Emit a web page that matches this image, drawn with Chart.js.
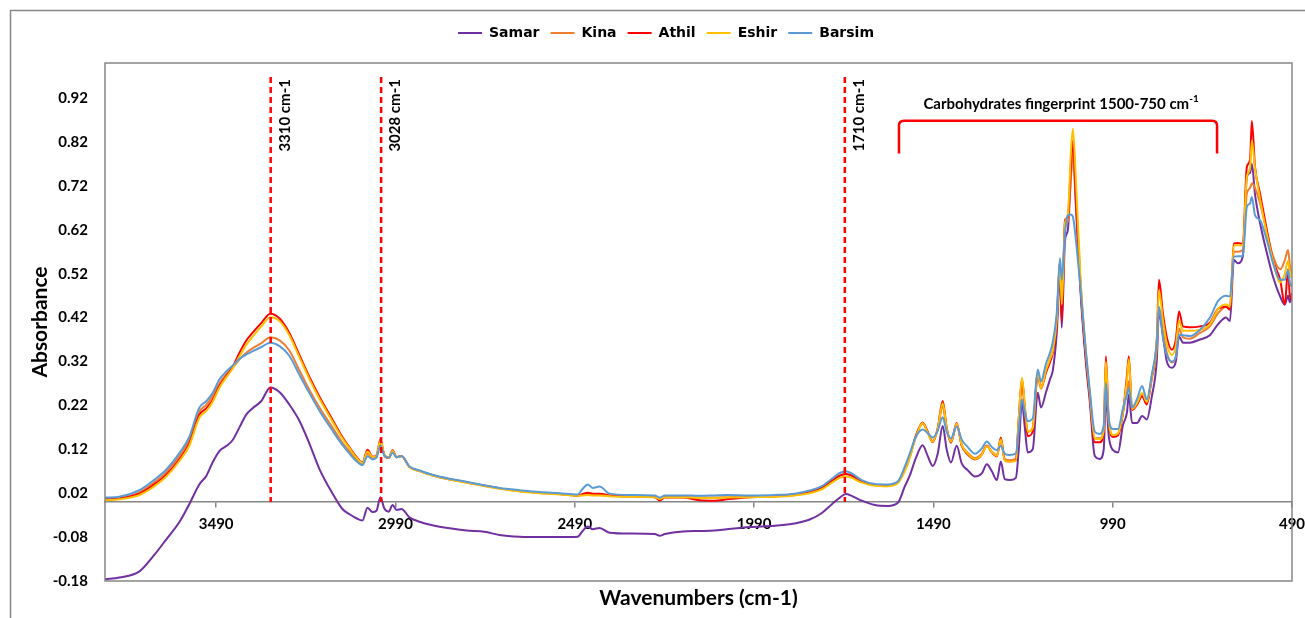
<!DOCTYPE html>
<html>
<head>
<meta charset="utf-8">
<title>FTIR spectra</title>
<script src="https://cdn.jsdelivr.net/npm/chart.js@4.4.1/dist/chart.umd.min.js"></script>
<style>
  html, body { margin: 0; padding: 0; background: #fff; }
  canvas { display: block; }
</style>
</head>
<body>
<canvas id="ftirChart" width="1305" height="618"></canvas>
<script>
// wavenumbers (cm-1), high to low
const wavenumbers = [
  3800, 3760, 3704, 3662, 3629, 3592, 3565, 3537, 3517, 3500,
  3481, 3461, 3445, 3425, 3406, 3389, 3364, 3339, 3313, 3286,
  3258, 3230, 3202, 3166, 3138, 3118, 3099, 3082, 3068, 3054,
  3043, 3032, 3021, 3009, 2998, 2987, 2973, 2951, 2923, 2887,
  2839, 2792, 2742, 2700, 2644, 2588, 2532, 2482, 2468, 2454,
  2440, 2421, 2393, 2337, 2267, 2253, 2239, 2189, 2142, 2100,
  2066, 2002, 1932, 1877, 1835, 1801, 1773, 1751, 1734, 1718,
  1690, 1653, 1617, 1589, 1570, 1556, 1539, 1520, 1506, 1492,
  1478, 1464, 1453, 1441, 1425, 1411, 1394, 1374, 1355, 1341,
  1327, 1313, 1302, 1291, 1277, 1260, 1252, 1243, 1235, 1227,
  1213, 1199, 1190, 1176, 1165, 1157, 1146, 1137, 1132, 1123,
  1115, 1107, 1101, 1093, 1079, 1065, 1054, 1040, 1026, 1015,
  1009, 1001, 989, 975, 962, 950, 945, 936, 922, 908,
  895, 881, 867, 861, 850, 839, 825, 814, 805, 794,
  775, 747, 719, 696, 674, 663, 652, 641, 627, 616,
  607, 602, 593, 579, 560, 543, 523, 510, 501, 496, 490
];

const samar = [
  -0.176, -0.172, -0.158, -0.12, -0.085, -0.045, -0.005, 0.040, 0.060, 0.090,
  0.116, 0.128, 0.140, 0.170, 0.199, 0.213, 0.230, 0.261, 0.250, 0.222,
  0.185, 0.133, 0.075, 0.020, -0.016, -0.028, -0.037, -0.042, -0.013, -0.023,
  -0.020, 0.011, -0.015, -0.022, -0.007, -0.018, -0.016, -0.035, -0.045, -0.053,
  -0.060, -0.065, -0.068, -0.075, -0.079, -0.080, -0.080, -0.079, -0.066, -0.056,
  -0.062, -0.059, -0.070, -0.072, -0.073, -0.077, -0.073, -0.067, -0.066, -0.065,
  -0.062, -0.057, -0.054, -0.049, -0.040, -0.025, -0.005, 0.010, 0.018, 0.014,
  0.003, -0.007, -0.009, -0.002, 0.035, 0.060, 0.100, 0.129, 0.105, 0.082,
  0.110, 0.173, 0.120, 0.090, 0.128, 0.088, 0.072, 0.058, 0.065, 0.086,
  0.070, 0.050, 0.092, 0.052, 0.050, 0.055, 0.120, 0.227, 0.170, 0.113,
  0.120, 0.249, 0.215, 0.250, 0.279, 0.300, 0.385, 0.521, 0.397, 0.596,
  0.620, 0.740, 0.805, 0.680, 0.470, 0.320, 0.230, 0.105, 0.098, 0.120,
  0.240, 0.150, 0.118, 0.113, 0.173, 0.205, 0.245, 0.180, 0.180, 0.196,
  0.188, 0.240, 0.324, 0.431, 0.380, 0.320, 0.306, 0.320, 0.377, 0.363,
  0.363, 0.370, 0.380, 0.405, 0.420, 0.412, 0.551, 0.544, 0.560, 0.740,
  0.750, 0.770, 0.700, 0.635, 0.567, 0.513, 0.468, 0.450, 0.470, 0.455, 0.476
];

const kina = [
  0.007, 0.009, 0.022, 0.045, 0.068, 0.105, 0.140, 0.205, 0.222, 0.240,
  0.270, 0.292, 0.305, 0.325, 0.340, 0.350, 0.362, 0.375, 0.368, 0.345,
  0.300, 0.255, 0.215, 0.170, 0.135, 0.115, 0.097, 0.087, 0.110, 0.100,
  0.104, 0.132, 0.108, 0.101, 0.114, 0.102, 0.104, 0.080, 0.071, 0.061,
  0.052, 0.045, 0.037, 0.031, 0.025, 0.021, 0.018, 0.015, 0.016, 0.018,
  0.016, 0.016, 0.014, 0.013, 0.012, 0.008, 0.012, 0.012, 0.010, 0.010,
  0.011, 0.012, 0.013, 0.016, 0.022, 0.032, 0.048, 0.060, 0.064, 0.060,
  0.047, 0.039, 0.038, 0.045, 0.075, 0.105, 0.150, 0.178, 0.160, 0.138,
  0.165, 0.218, 0.165, 0.138, 0.175, 0.130, 0.112, 0.100, 0.110, 0.128,
  0.115, 0.106, 0.140, 0.098, 0.095, 0.098, 0.180, 0.265, 0.210, 0.160,
  0.170, 0.285, 0.258, 0.295, 0.325, 0.345, 0.415, 0.545, 0.440, 0.625,
  0.640, 0.730, 0.800, 0.700, 0.490, 0.340, 0.245, 0.145, 0.145, 0.165,
  0.270, 0.180, 0.150, 0.155, 0.200, 0.255, 0.275, 0.210, 0.222, 0.245,
  0.225, 0.280, 0.350, 0.440, 0.390, 0.340, 0.318, 0.330, 0.395, 0.375,
  0.372, 0.385, 0.400, 0.430, 0.445, 0.440, 0.570, 0.570, 0.575, 0.702,
  0.715, 0.726, 0.715, 0.680, 0.615, 0.560, 0.530, 0.551, 0.574, 0.540, 0.520
];

const athil = [
  0.006, 0.008, 0.019, 0.040, 0.062, 0.098, 0.133, 0.198, 0.214, 0.232,
  0.264, 0.288, 0.306, 0.340, 0.368, 0.385, 0.408, 0.429, 0.418, 0.385,
  0.335, 0.285, 0.240, 0.188, 0.148, 0.124, 0.103, 0.090, 0.119, 0.103,
  0.106, 0.143, 0.106, 0.100, 0.118, 0.102, 0.105, 0.080, 0.071, 0.061,
  0.052, 0.045, 0.037, 0.031, 0.025, 0.021, 0.018, 0.015, 0.018, 0.021,
  0.019, 0.019, 0.015, 0.013, 0.011, 0.003, 0.010, 0.010, 0.004, 0.003,
  0.006, 0.011, 0.013, 0.016, 0.022, 0.032, 0.048, 0.060, 0.064, 0.060,
  0.047, 0.039, 0.038, 0.045, 0.072, 0.102, 0.150, 0.181, 0.160, 0.136,
  0.168, 0.230, 0.170, 0.135, 0.180, 0.128, 0.108, 0.097, 0.108, 0.128,
  0.113, 0.104, 0.147, 0.095, 0.092, 0.095, 0.190, 0.280, 0.215, 0.150,
  0.160, 0.295, 0.262, 0.295, 0.318, 0.340, 0.408, 0.550, 0.411, 0.642,
  0.649, 0.760, 0.823, 0.700, 0.480, 0.330, 0.240, 0.136, 0.136, 0.160,
  0.332, 0.185, 0.148, 0.152, 0.200, 0.290, 0.332, 0.210, 0.222, 0.241,
  0.222, 0.285, 0.370, 0.506, 0.430, 0.375, 0.347, 0.370, 0.434, 0.400,
  0.398, 0.400, 0.408, 0.440, 0.445, 0.438, 0.589, 0.590, 0.588, 0.763,
  0.780, 0.868, 0.763, 0.702, 0.619, 0.551, 0.506, 0.450, 0.530, 0.470, 0.460
];

const eshir = [
  0.004, 0.006, 0.016, 0.036, 0.058, 0.094, 0.128, 0.192, 0.208, 0.228,
  0.260, 0.285, 0.303, 0.332, 0.358, 0.376, 0.400, 0.421, 0.412, 0.380,
  0.330, 0.280, 0.235, 0.184, 0.145, 0.122, 0.101, 0.089, 0.115, 0.102,
  0.105, 0.140, 0.108, 0.101, 0.116, 0.102, 0.104, 0.079, 0.070, 0.060,
  0.051, 0.044, 0.036, 0.030, 0.024, 0.020, 0.017, 0.014, 0.015, 0.016,
  0.015, 0.015, 0.013, 0.012, 0.011, 0.007, 0.011, 0.011, 0.009, 0.009,
  0.010, 0.011, 0.012, 0.015, 0.020, 0.029, 0.044, 0.055, 0.058, 0.055,
  0.044, 0.037, 0.036, 0.043, 0.070, 0.100, 0.147, 0.180, 0.158, 0.137,
  0.166, 0.225, 0.168, 0.137, 0.178, 0.130, 0.110, 0.098, 0.108, 0.127,
  0.114, 0.105, 0.143, 0.095, 0.092, 0.094, 0.190, 0.283, 0.220, 0.160,
  0.168, 0.295, 0.260, 0.300, 0.325, 0.345, 0.415, 0.545, 0.450, 0.635,
  0.655, 0.790, 0.850, 0.740, 0.500, 0.345, 0.250, 0.145, 0.143, 0.165,
  0.320, 0.188, 0.152, 0.156, 0.202, 0.280, 0.325, 0.212, 0.225, 0.248,
  0.228, 0.285, 0.365, 0.483, 0.415, 0.360, 0.335, 0.355, 0.413, 0.390,
  0.390, 0.392, 0.405, 0.440, 0.450, 0.445, 0.585, 0.585, 0.585, 0.740,
  0.760, 0.823, 0.760, 0.690, 0.610, 0.550, 0.500, 0.520, 0.550, 0.520, 0.510
];

const barsim = [
  0.010, 0.012, 0.027, 0.051, 0.074, 0.112, 0.148, 0.215, 0.230, 0.248,
  0.279, 0.298, 0.310, 0.326, 0.336, 0.343, 0.353, 0.363, 0.355, 0.333,
  0.290, 0.248, 0.208, 0.163, 0.130, 0.110, 0.093, 0.084, 0.104, 0.097,
  0.101, 0.128, 0.106, 0.101, 0.112, 0.102, 0.105, 0.081, 0.072, 0.062,
  0.053, 0.046, 0.038, 0.032, 0.027, 0.023, 0.020, 0.017, 0.030, 0.040,
  0.032, 0.035, 0.019, 0.016, 0.015, 0.010, 0.015, 0.015, 0.014, 0.015,
  0.016, 0.015, 0.016, 0.019, 0.026, 0.036, 0.053, 0.066, 0.070, 0.065,
  0.050, 0.041, 0.040, 0.047, 0.080, 0.110, 0.148, 0.165, 0.157, 0.147,
  0.162, 0.193, 0.160, 0.145, 0.172, 0.142, 0.125, 0.110, 0.122, 0.138,
  0.125, 0.118, 0.128, 0.110, 0.107, 0.110, 0.165, 0.234, 0.205, 0.184,
  0.190, 0.302, 0.275, 0.315, 0.340, 0.365, 0.431, 0.555, 0.506, 0.612,
  0.653, 0.655, 0.650, 0.600, 0.480, 0.345, 0.255, 0.160, 0.155, 0.175,
  0.271, 0.190, 0.166, 0.166, 0.211, 0.245, 0.260, 0.215, 0.235, 0.264,
  0.234, 0.290, 0.363, 0.445, 0.375, 0.335, 0.320, 0.332, 0.381, 0.380,
  0.378, 0.392, 0.420, 0.458, 0.470, 0.468, 0.559, 0.560, 0.560, 0.672,
  0.680, 0.695, 0.653, 0.642, 0.596, 0.544, 0.506, 0.506, 0.528, 0.500, 0.490
];

const xTicks = [3490, 2990, 2490, 1990, 1490, 990, 490];
const yTicks = [-0.18, -0.08, 0.02, 0.12, 0.22, 0.32, 0.42, 0.52, 0.62, 0.72, 0.82, 0.92];

// red dashed band markers (drawn where they sit in the picture)
const markerWavenumbers = [3338, 3030, 1737];
const markerLabels = ['3310 cm-1', '3028 cm-1', '1710 cm-1'];
const markerTop = 0.968;

// fingerprint bracket
const bracketRange = [1586, 699];
const bracketLevels = [0.794, 0.8685];
const noteText = 'Carbohydrates fingerprint 1500-750 cm';
const noteSup = '-1';
const noteCenter = [1134, 0.907];

const series = [
  { label: 'Samar', values: samar, color: '#7030A0' },
  { label: 'Kina', values: kina, color: '#ED7D31' },
  { label: 'Athil', values: athil, color: '#FF0000' },
  { label: 'Eshir', values: eshir, color: '#FFC000' },
  { label: 'Barsim', values: barsim, color: '#5B9BD5' }
];

const toPoints = values => values.map((v, i) => ({ x: wavenumbers[i], y: v }));

const GRAY = '#868686';
const TICK_FONT = { family: 'Lato', size: 15, weight: 'bold' };

const notesPlugin = {
  id: 'notes',
  beforeInit(chart) {
    // leave room between legend and plot like the original
    const fit = chart.legend.fit;
    chart.legend.fit = function () {
      fit.call(this);
      this.height += 13;
    };
  },
  afterDatasetsDraw(chart) {
    const { ctx, chartArea: a, scales: { x, y } } = chart;
    ctx.save();

    ctx.strokeStyle = GRAY;
    ctx.lineWidth = 1.5;
    ctx.strokeRect(a.left, a.top, a.right - a.left, a.bottom - a.top);

    // dashed markers + rotated labels
    ctx.strokeStyle = '#FF0000';
    ctx.lineWidth = 2.5;
    ctx.setLineDash([6, 4]);
    markerWavenumbers.forEach((wn, i) => {
      const px = x.getPixelForValue(wn);
      const yTop = y.getPixelForValue(markerTop);
      ctx.beginPath();
      ctx.moveTo(px, yTop);
      ctx.lineTo(px, y.getPixelForValue(0));
      ctx.stroke();

      ctx.save();
      ctx.translate(px + 14, yTop + 2);
      ctx.rotate(-Math.PI / 2);
      ctx.fillStyle = '#000';
      ctx.font = 'bold 15px Lato';
      ctx.textAlign = 'right';
      ctx.textBaseline = 'middle';
      ctx.fillText(markerLabels[i], 0, 0);
      ctx.restore();
    });
    ctx.setLineDash([]);

    // bracket over the fingerprint region
    const bx1 = x.getPixelForValue(bracketRange[0]);
    const bx2 = x.getPixelForValue(bracketRange[1]);
    const byBot = y.getPixelForValue(bracketLevels[0]);
    const byTop = y.getPixelForValue(bracketLevels[1]);
    const r = 5;
    ctx.lineWidth = 2.5;
    ctx.beginPath();
    ctx.moveTo(bx1, byBot);
    ctx.lineTo(bx1, byTop + r);
    ctx.quadraticCurveTo(bx1, byTop, bx1 + r, byTop);
    ctx.lineTo(bx2 - r, byTop);
    ctx.quadraticCurveTo(bx2, byTop, bx2, byTop + r);
    ctx.lineTo(bx2, byBot);
    ctx.stroke();

    ctx.fillStyle = '#000';
    ctx.textAlign = 'left';
    ctx.textBaseline = 'middle';
    ctx.font = 'bold 15px Lato';
    const mainW = ctx.measureText(noteText).width;
    ctx.font = 'bold 10px Lato';
    const supW = ctx.measureText(noteSup).width;
    const cx = x.getPixelForValue(noteCenter[0]);
    const cy = y.getPixelForValue(noteCenter[1]);
    const start = cx - (mainW + supW) / 2;
    ctx.font = 'bold 15px Lato';
    ctx.fillText(noteText, start, cy);
    ctx.font = 'bold 10px Lato';
    ctx.fillText(noteSup, start + mainW, cy - 5);

    ctx.restore();
  },
  afterDraw(chart) {
    const { ctx, chartArea: a } = chart;
    ctx.save();
    // outer frame (left and top edges are visible in the picture)
    ctx.strokeStyle = GRAY;
    ctx.lineWidth = 1.5;
    ctx.beginPath();
    ctx.moveTo(10.5, chart.height);
    ctx.lineTo(10.5, 10.5);
    ctx.lineTo(chart.width, 10.5);
    ctx.stroke();

    // axis titles
    ctx.fillStyle = '#000';
    ctx.textAlign = 'center';
    ctx.textBaseline = 'middle';
    ctx.font = 'bold 21px Lato';
    ctx.fillText('Wavenumbers (cm-1)', (a.left + a.right) / 2, 598);
    ctx.save();
    ctx.translate(40, (a.top + a.bottom) / 2);
    ctx.rotate(-Math.PI / 2);
    ctx.font = 'bold 21px Lato';
    ctx.fillText('Absorbance', 0, 0);
    ctx.restore();
    ctx.restore();
  }
};

const ctx = document.getElementById('ftirChart').getContext('2d');
new Chart(ctx, {
  type: 'line',
  data: {
    datasets: series.map((s, i) => ({
      label: s.label,
      data: toPoints(s.values),
      borderColor: s.color,
      backgroundColor: s.color,
      borderWidth: 2,
      pointRadius: 0,
      cubicInterpolationMode: 'monotone',
      fill: false,
      order: series.length - i
    }))
  },
  options: {
    responsive: false,
    animation: false,
    layout: { padding: { left: 40, right: 13, top: 15, bottom: 37 } },
    plugins: {
      tooltip: { enabled: false },
      legend: {
        position: 'top',
        labels: {
          usePointStyle: true,
          pointStyle: 'line',
          pointStyleWidth: 24,
          padding: 11,
          color: '#000',
          font: { family: 'DejaVu Sans', size: 14, weight: 'bold' },
          sort: (a, b) => a.datasetIndex - b.datasetIndex
        }
      }
    },
    scales: {
      x: {
        type: 'linear',
        reverse: true,
        min: 490,
        max: 3800,
        position: { y: 0 },
        afterBuildTicks: scale => { scale.ticks = xTicks.map(v => ({ value: v })); },
        afterFit: scale => { scale.paddingLeft = 0; scale.paddingRight = 0; },
        grid: { display: true, drawOnChartArea: false, drawTicks: true, tickLength: 5, color: GRAY, lineWidth: 1.5 },
        border: { display: true, color: GRAY, width: 1.5 },
        ticks: {
          autoSkip: false,
          maxRotation: 0,
          padding: 8,
          color: '#000',
          font: TICK_FONT,
          callback: v => String(v)
        },
        title: { display: false }
      },
      y: {
        type: 'linear',
        min: -0.18,
        max: 1.0,
        afterBuildTicks: scale => { scale.ticks = yTicks.map(v => ({ value: v })); },
        afterFit: scale => { scale.width = 65; scale.paddingTop = 0; scale.paddingBottom = 0; },
        grid: { display: false, drawTicks: false },
        border: { display: false },
        ticks: {
          padding: 17,
          color: '#000',
          font: TICK_FONT,
          callback: v => v.toFixed(2)
        },
        title: { display: false }
      }
    }
  },
  plugins: [notesPlugin]
});
</script>
</body>
</html>
